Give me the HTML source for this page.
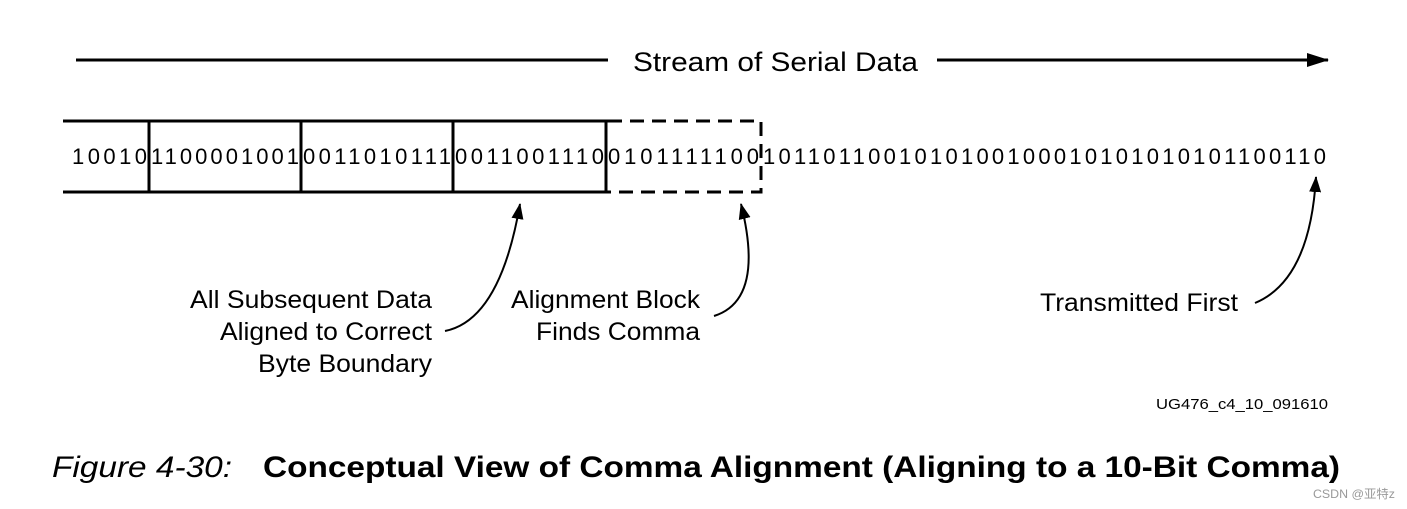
<!DOCTYPE html>
<html><head><meta charset="utf-8"><style>
html,body{margin:0;padding:0;background:#fff;width:1407px;height:509px;overflow:hidden}
svg text{font-family:"Liberation Sans","Noto Sans CJK SC",sans-serif;fill:#000}
</style></head><body>
<svg width="1407" height="509" viewBox="0 0 1407 509" xmlns="http://www.w3.org/2000/svg">
<defs><marker id="a" markerWidth="16" markerHeight="12" refX="15" refY="6" orient="auto" markerUnits="userSpaceOnUse"><path d="M0,0 L16,6 L0,12 z" fill="#000"/></marker>
<marker id="b" markerWidth="22" markerHeight="14" refX="21" refY="7" orient="auto" markerUnits="userSpaceOnUse"><path d="M0,0 L22,7 L0,14 z" fill="#000"/></marker></defs>
<line x1="76" y1="60" x2="608" y2="60" stroke="#000" stroke-width="3"/>
<text x="633" y="71" font-size="27" textLength="285" lengthAdjust="spacingAndGlyphs">Stream of Serial Data</text>
<line x1="937" y1="60" x2="1328" y2="60" stroke="#000" stroke-width="3" marker-end="url(#b)"/>
<g stroke="#000" stroke-width="3" fill="none">
<line x1="63" y1="121" x2="608" y2="121"/>
<line x1="63" y1="192" x2="608" y2="192"/>
<line x1="149" y1="121" x2="149" y2="192"/>
<line x1="301" y1="121" x2="301" y2="192"/>
<line x1="453" y1="121" x2="453" y2="192"/>
<line x1="606" y1="121" x2="606" y2="192"/>
<path d="M608,121 H761 V192 H608" stroke-dasharray="14,8"/>
</g>
<g font-size="22">
<text x="72" y="164" textLength="75" lengthAdjust="spacing">10010</text>
<text x="151" y="164" textLength="148" lengthAdjust="spacing">1100001001</text>
<text x="303" y="164" textLength="148" lengthAdjust="spacing">0011010111</text>
<text x="455" y="164" textLength="149" lengthAdjust="spacing">0011001110</text>
<text x="608" y="164" textLength="151" lengthAdjust="spacing">0101111100</text>
<text x="763" y="164" textLength="563" lengthAdjust="spacing">1011011001010100100010101010101100110</text>
</g>
<g stroke="#000" stroke-width="2" fill="none">
<path d="M445,331 Q500,320 520,204" marker-end="url(#a)"/>
<path d="M714,316 Q765,300 741,204" marker-end="url(#a)"/>
<path d="M1255,303 Q1310,280 1316,177" marker-end="url(#a)"/>
</g>
<g font-size="25">
<text x="190" y="308" textLength="242" lengthAdjust="spacingAndGlyphs">All Subsequent Data</text>
<text x="220" y="340" textLength="212" lengthAdjust="spacingAndGlyphs">Aligned to Correct</text>
<text x="258" y="372" textLength="174" lengthAdjust="spacingAndGlyphs">Byte Boundary</text>
<text x="511" y="308" textLength="189" lengthAdjust="spacingAndGlyphs">Alignment Block</text>
<text x="536" y="340" textLength="164" lengthAdjust="spacingAndGlyphs">Finds Comma</text>
<text x="1040" y="311" textLength="198" lengthAdjust="spacingAndGlyphs">Transmitted First</text>
</g>
<text x="1156" y="409" font-size="15" textLength="172" lengthAdjust="spacingAndGlyphs">UG476_c4_10_091610</text>
<text x="52" y="477" font-size="30" font-style="italic" textLength="180" lengthAdjust="spacingAndGlyphs">Figure 4-30:</text>
<text x="263" y="477" font-size="30" font-weight="bold" textLength="1077" lengthAdjust="spacingAndGlyphs">Conceptual View of Comma Alignment (Aligning to a 10-Bit Comma)</text>
<text x="1313" y="498" font-size="12" style="fill:#999" textLength="82" lengthAdjust="spacingAndGlyphs">CSDN @亚特z</text>
</svg>
</body></html>
